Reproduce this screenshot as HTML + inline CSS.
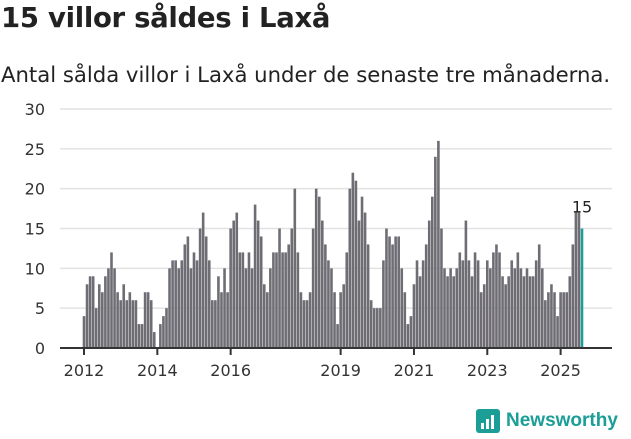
<!DOCTYPE html>
<html><head><meta charset="utf-8"><style>
body{margin:0;width:631px;height:439px;background:#fff;font-family:"DejaVu Sans",sans-serif;overflow:hidden;position:relative}
h1{position:absolute;left:1px;top:2px;margin:0;font-size:27.5px;font-weight:bold;color:#222;letter-spacing:-0.3px}
p{position:absolute;left:1px;top:62px;margin:0;font-size:21.2px;color:#222}
</style></head><body>
<h1>15 villor såldes i Laxå</h1>
<p>Antal sålda villor i Laxå under de senaste tre månaderna.</p>
<svg id="c" width="631" height="439" style="position:absolute;left:0;top:0"></svg>
<script>
const values=[4,8,9,9,5,8,7,9,10,12,10,7,6,8,6,7,6,6,3,3,7,7,6,2,0,3,4,5,10,11,11,10,11,13,14,10,12,
11,15,17,14,11,6,6,9,7,10,7,15,16,17,12,12,10,12,10,18,16,14,8,7,10,12,12,15,12,12,13,15,20,12,7,6,6,7,15,20,19,16,
13,11,10,7,3,7,8,12,20,22,21,16,19,17,13,6,5,5,5,11,15,14,13,14,14,10,7,3,4,8,11,9,11,13,16,19,24,26,15,10,9,
10,9,10,12,11,16,11,9,12,11,7,8,11,10,12,13,12,9,8,9,11,10,12,10,9,10,9,9,11,13,10,6,7,8,7,4,7,7,7,9,13,17,17,15];
const yTicks=[0,5,10,15,20,25,30];
const xYears=[2012,2014,2016,2019,2021,2023,2025];
const NS="http://www.w3.org/2000/svg",svg=document.getElementById('c');
const y0=348,y30=109,x0=84,xN=582;
const y=v=>y0-(v/30)*(y0-y30);
const step=(xN-x0)/(values.length-1);
const x=i=>x0+i*step;
const FF='DejaVu Sans, sans-serif';
function mk(t,a){const e=document.createElementNS(NS,t);for(const k in a)e.setAttribute(k,a[k]);svg.appendChild(e);return e;}
yTicks.forEach(t=>{
 if(t>0){const g=mk('line',{x1:60,x2:612,y1:y(t),y2:y(t),stroke:'#e2e2e2','stroke-width':1.5});
 
 }
 const l=mk('text',{x:45,y:y(t)+6,'text-anchor':'end','font-size':16,fill:'#333','font-family':FF});
 l.textContent=t;
 
 
});
values.forEach((v,i)=>{
 const last=i===values.length-1;
 const r=mk('rect',{x:x(i)-1.3,y:y(v),width:2.6,height:y0-y(v),fill:last?'#1a9e96':'#6e6d74'});
 
 
});
const lv=values[values.length-1];
const lab=mk('text',{x:x(values.length-1),y:y(lv)-16,'text-anchor':'middle','font-size':16,fill:'#222','font-family':FF});
lab.textContent=lv;


const ax=mk('line',{x1:60,x2:612,y1:y0,y2:y0,stroke:'#333','stroke-width':2});


xYears.forEach(yr=>{
 const xx=x((yr-2012)*12);
 const t=mk('line',{x1:xx,x2:xx,y1:y0,y2:y0+7,stroke:'#333','stroke-width':2});
 
 
 const l=mk('text',{x:xx,y:y0+28,'text-anchor':'middle','font-size':16,fill:'#333','font-family':FF});
 l.textContent=yr;
 
 
});
</script>
<div style="position:absolute;left:476px;top:409px;display:flex;align-items:center">
<div style="width:24px;height:24px;background:#1a9e96;border-radius:3px;position:relative">
<div style="position:absolute;left:5px;bottom:4px;width:3px;height:6px;background:#fff"></div>
<div style="position:absolute;left:10px;bottom:4px;width:3px;height:10px;background:#fff"></div>
<div style="position:absolute;left:15px;bottom:4px;width:3px;height:14px;background:#fff"></div>
</div>
<span style="margin-left:6px;font-size:19px;font-weight:bold;color:#1a9e96;font-family:'Liberation Sans',sans-serif">Newsworthy</span>
</div>
</body></html>
